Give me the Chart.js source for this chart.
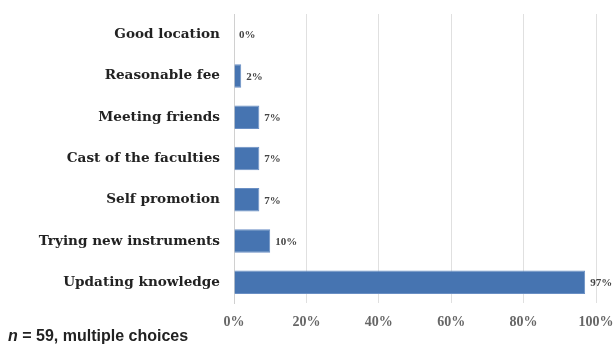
<!DOCTYPE html>
<html><head><meta charset="utf-8">
<script src="https://cdn.jsdelivr.net/npm/chart.js@4"></script>
<style>
html,body{margin:0;padding:0;background:#fff;}
#wrap{position:relative;width:614px;height:345px;}
#note{position:absolute;left:8px;top:327px;font:bold 16px "Liberation Sans",Arial,sans-serif;line-height:17px;color:#222;white-space:nowrap;}
</style></head><body>
<div id="wrap"><canvas id="c" width="614" height="345"></canvas>
<div id="note"><i>n</i> = 59, multiple choices</div></div>
<script>
const categories = ["Good location","Reasonable fee","Meeting friends","Cast of the faculties","Self promotion","Trying new instruments","Updating knowledge"];
const values = [0, 2, 7, 7, 7, 10, 97];
const xTicks = [0, 20, 40, 60, 80, 100];

const valueLabels = {
  id: 'valueLabels',
  afterDatasetsDraw(chart) {
    const ctx = chart.ctx;
    const meta = chart.getDatasetMeta(0);
    ctx.save();
    ctx.font = 'bold 11px "Liberation Serif", serif';
    ctx.fillStyle = '#444';
    ctx.textBaseline = 'middle';
    ctx.textAlign = 'left';
    meta.data.forEach((bar, i) => {
      ctx.fillText(values[i] + '%', bar.x + 5, bar.y + 1);
    });
    ctx.restore();
  }
};

new Chart(document.getElementById('c'), {
  type: 'bar',
  data: { labels: categories, datasets: [{ data: values, backgroundColor: '#4674B1', borderColor: '#6A8FC4', borderWidth: 1, borderSkipped: 'left', barPercentage: 0.57, categoryPercentage: 1 }] },
  options: {
    indexAxis: 'y', responsive: false, animation: false,
    layout: { padding: { top: 14, right: 18, bottom: 12, left: 0 } },
    plugins: { legend: { display: false }, tooltip: { enabled: false } },
    scales: {
      x: {
        min: 0, max: 100,
        afterBuildTicks(s) { s.ticks = xTicks.map(v => ({ value: v })); },
        afterFit(s) { s.height = 30; s.paddingLeft = 0; s.paddingRight = 0; },
        grid: { color: '#e0e0e0', drawTicks: false },
        border: { display: false },
        ticks: { padding: 11, color: '#666', font: { family: '"Liberation Serif", serif', weight: 'bold', size: 14 }, callback: v => v + '%' }
      },
      y: {
        afterFit(s) { s.width = 234; s.paddingTop = 0; s.paddingBottom = 0; },
        grid: { display: false, drawTicks: false },
        border: { display: true, color: '#d0d0d0' },
        ticks: { padding: 14, color: '#222', font: { family: '"DejaVu Serif", serif', weight: 'bold', size: 13.6 } }
      }
    }
  },
  plugins: [valueLabels]
});
</script></body></html>
